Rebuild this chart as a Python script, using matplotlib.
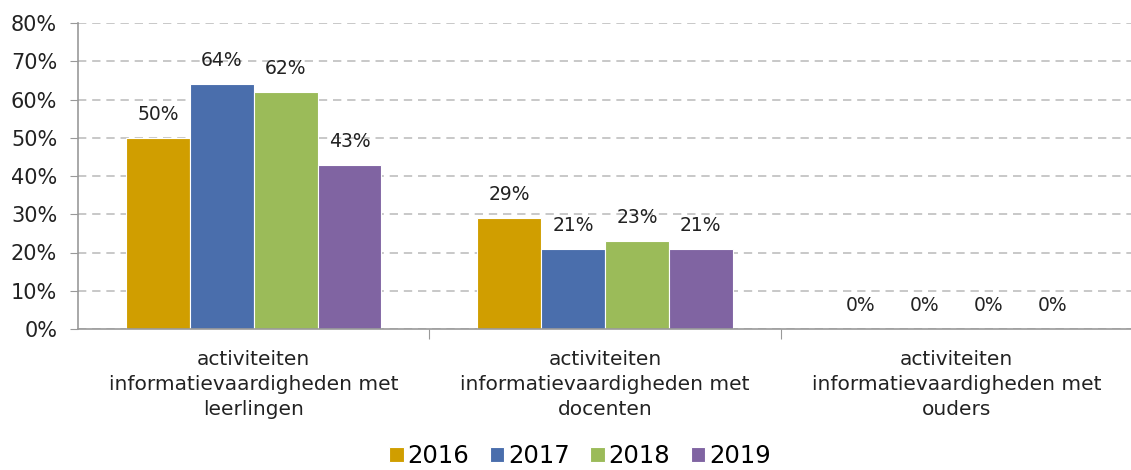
import numpy as np
import matplotlib.pyplot as plt
from matplotlib.ticker import PercentFormatter

# chart data
categories = ["activiteiten\ninformatievaardigheden met\nleerlingen",
              "activiteiten\ninformatievaardigheden met\ndocenten",
              "activiteiten\ninformatievaardigheden met\nouders"]
years = ["2016", "2017", "2018", "2019"]
values_2016 = [50, 29, 0]
values_2017 = [64, 21, 0]
values_2018 = [62, 23, 0]
values_2019 = [43, 21, 0]
colors = ["#D09E00", "#4A6EAC", "#9BBB59", "#8064A2"]

series = [values_2016, values_2017, values_2018, values_2019]

plt.rcParams['font.family'] = ['DejaVu Sans']

fig = plt.figure(figsize=(11.31, 4.70), dpi=100)
ax = fig.add_axes([78 / 1131, 1 - 329 / 470, (1132 - 78) / 1131, (329 - 23) / 470])

x = np.arange(len(categories))
width = 0.727 / 4
for i, vals in enumerate(series):
    offset = (i - 1.5) * width
    rects = ax.bar(x + offset, vals, width, color=colors[i], label=years[i],
                   edgecolor="white", linewidth=0.8, zorder=3)
    ax.bar_label(rects, labels=[f"{v}%" for v in vals], padding=10, fontsize=13.5, color="#222222")

ax.set_xlim(-0.5, 2.5)
ax.set_ylim(0, 80)
ax.set_yticks(np.arange(0, 81, 10))
ax.yaxis.set_major_formatter(PercentFormatter(decimals=0))
ax.grid(axis='y', color="#BFBFBF", linestyle=(0, (5, 3.5)), linewidth=1.2, zorder=0)

ax.set_xticks([0.5, 1.5], minor=False)
ax.set_xticklabels([])
ax.set_xticks(x, minor=True)
ax.set_xticklabels(categories, minor=True, fontsize=14.5, color="#222222", linespacing=1.4)
ax.tick_params(axis='x', which='minor', length=0, pad=15)
ax.tick_params(axis='x', which='major', length=7, color="#999999", direction='out')
ax.tick_params(axis='y', length=6, color="#999999", labelsize=15, labelcolor="#222222", pad=9)

for side in ['top', 'right']:
    ax.spines[side].set_visible(False)
for side in ['left', 'bottom']:
    ax.spines[side].set_color("#999999")
    ax.spines[side].set_linewidth(1.2)
    ax.spines[side].set_zorder(4)

fig.legend(loc='center', bbox_to_anchor=(580 / 1131, 1 - 456 / 470), ncols=4, frameon=False,
           fontsize=17.5, handlelength=0.6, handleheight=0.6, handletextpad=0.15, columnspacing=0.85)

fig.savefig("out.png", dpi=100)
